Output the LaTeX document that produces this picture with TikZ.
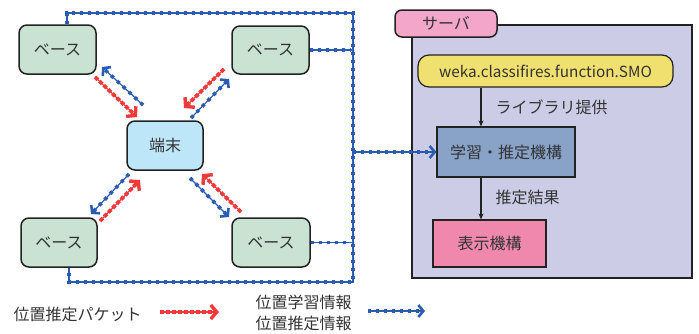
\documentclass[tikz,border=0pt]{standalone}
\usepackage{fontspec}
\setmainfont{Noto Sans CJK JP}
\usetikzlibrary{arrows.meta}
\definecolor{busblue}{HTML}{2B5CB3}
\definecolor{pktred}{HTML}{EE3A3A}
\definecolor{basefill}{HTML}{C9E2D2}
\definecolor{termfill}{HTML}{BDE6F8}
\definecolor{srvfill}{HTML}{CCCCE6}
\definecolor{tabfill}{HTML}{F3A6CA}
\definecolor{yelfill}{HTML}{F0E070}
\definecolor{learnfill}{HTML}{88A2C8}
\definecolor{dispfill}{HTML}{F088AE}
\definecolor{txt}{HTML}{333333}
\definecolor{edge}{HTML}{222222}
\tikzset{
  every node/.style={font=\fontsize{16}{19}\selectfont, text=txt},
  basebox/.style={draw=edge, line width=1.5pt, rounded corners=8pt, fill=basefill, inner sep=0pt},
  termbox/.style={draw=edge, line width=1.5pt, rounded corners=8pt, fill=termfill, inner sep=0pt},
  sqbox/.style={draw=edge, line width=1.2pt, inner sep=0pt},
  bus/.style={draw=busblue, line width=1.2pt,
    postaction={draw=busblue, line width=3.6pt, dash pattern=on 3.4pt off 4.6pt, arrows=-, shorten >=3pt}},
  pkt/.style={draw=pktred, line width=1.2pt,
    postaction={draw=pktred, line width=3.8pt, dash pattern=on 4pt off 2pt, arrows=-, shorten >=4pt}},
  bluetip/.style={-{Straight Barb[length=5pt,width=12pt,line width=2.6pt]}},
  redtip/.style={-{Straight Barb[length=6pt,width=14pt,line width=3.4pt]}},
  flow/.style={draw=edge, line width=1.2pt, -{Stealth[length=6pt,width=5pt]}},
}
\begin{document}
\begin{tikzpicture}[x=1pt,y=-1pt]
\useasboundingbox (0,0) rectangle (699,333);
% server background
\fill[srvfill, draw=edge, line width=1.5pt] (412,25) rectangle (692,278);
\node[draw=edge, line width=1.5pt, rounded corners=7pt, fill=tabfill, minimum width=102pt, minimum height=27pt, inner sep=0pt] (tab) at (446,23.5) {サーバ};
\node[draw=edge, line width=1.2pt, rounded corners=11pt, fill=yelfill, minimum width=255pt, minimum height=32pt, inner sep=0pt, font=\fontsize{15.3}{18}\selectfont] (smo) at (545.5,71) {weka.classifires.function.SMO};
\node[sqbox, fill=learnfill, minimum width=138pt, minimum height=50pt] (learn) at (506,152) {学習・推定機構};
\node[sqbox, fill=dispfill, minimum width=113pt, minimum height=47pt] (disp) at (489.5,243.5) {表示機構};
\coordinate (ax) at (481,0);
\draw[flow] (smo.south -| ax) -- (learn.north -| ax);
\draw[flow] (learn.south -| ax) -- (disp.north -| ax);
\node[anchor=west] (lib) at (492,107) {ライブラリ提供};
\node[anchor=west] (res) at (492,197) {推定結果};

% bases and terminal
\node[basebox, minimum width=77pt, minimum height=49pt] (tl) at (57.5,49.5) {ベース};
\node[basebox, minimum width=77pt, minimum height=48pt] (tr) at (270.5,50) {ベース};
\node[termbox, minimum width=76pt, minimum height=49pt] (term) at (165,145.5) {端末};
\node[basebox, minimum width=76pt, minimum height=49pt] (bl) at (59,242.5) {ベース};
\node[basebox, minimum width=78pt, minimum height=49pt] (br) at (271,242.5) {ベース};

% bus
\coordinate (busTL) at (67,13);
\coordinate (busTR) at (353,13);
\coordinate (busBR) at (353,282);
\coordinate (busBL) at (69,282);
\draw[bus] (busTL |- tl.north) -- (busTL) -- (busTR) -- (busBR) -- (busBL) -- (busBL |- bl.south);
\draw[bus] (tr.east) -- (tr.east -| busTR);
\draw[bus] (br.east) -- (br.east -| busTR);
\draw[bus, bluetip] (busTR |- learn.west) -- (learn.west);

% diagonal pairs
\coordinate (a1) at (95,77);  \coordinate (a2) at (137,117);
\coordinate (b1) at (143,105); \coordinate (b2) at (102,67);
\draw[pkt, redtip] (a1) -- (a2);
\draw[bus, bluetip] (b1) -- (b2);
\coordinate (c1) at (224,69);  \coordinate (c2) at (184,108);
\coordinate (d1) at (191,118); \coordinate (d2) at (229,79);
\draw[pkt, redtip] (c1) -- (c2);
\draw[bus, bluetip] (d1) -- (d2);
\coordinate (e1) at (129,174); \coordinate (e2) at (91,214);
\coordinate (f1) at (100,221); \coordinate (f2) at (140,180);
\draw[bus, bluetip] (e1) -- (e2);
\draw[pkt, redtip] (f1) -- (f2);
\coordinate (g1) at (190,178); \coordinate (g2) at (229,217);
\coordinate (h1) at (241,212); \coordinate (h2) at (202,174);
\draw[bus, bluetip] (g1) -- (g2);
\draw[pkt, redtip] (h1) -- (h2);

% legend
\node[anchor=west] (lg1) at (10,314) {位置推定パケット};
\coordinate (r1) at (160,312); \coordinate (r2) at (219,312);
\draw[pkt, redtip] (r1) -- (r2);
\node[anchor=west] (lg2) at (252,302) {位置学習情報};
\node[anchor=west] (lg3) at (252,323) {位置推定情報};
\coordinate (s1) at (368,311); \coordinate (s2) at (425,311);
\draw[bus, bluetip] (s1) -- (s2);
\end{tikzpicture}
\end{document}
